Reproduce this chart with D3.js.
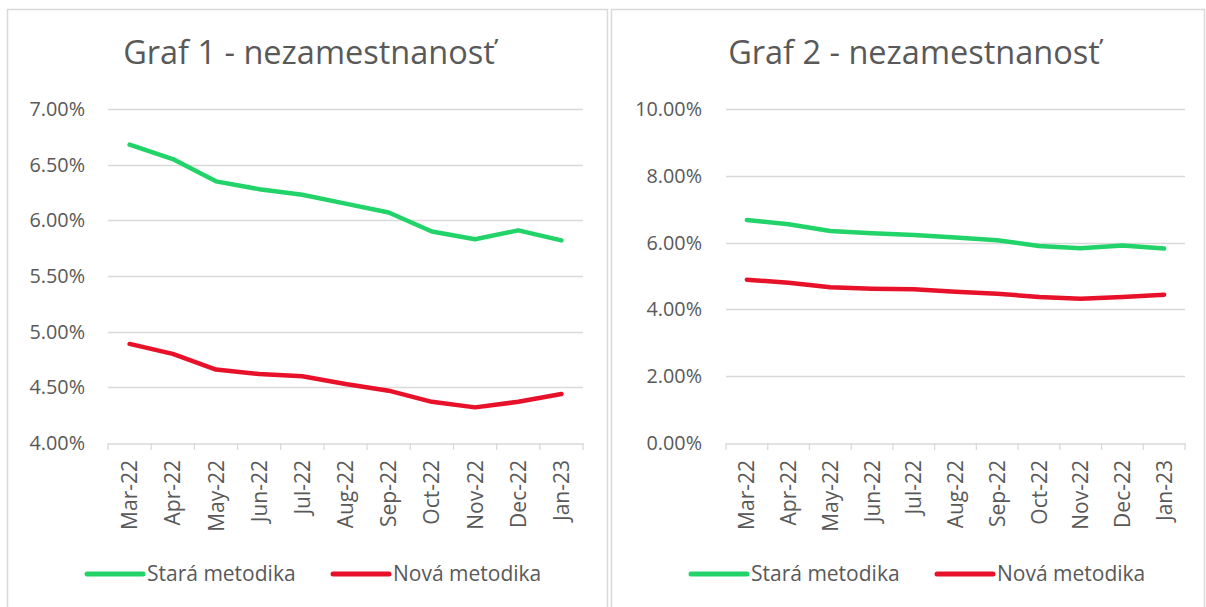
<!DOCTYPE html>
<html>
<head>
<meta charset="utf-8">
<script src="https://cdn.jsdelivr.net/npm/d3@7"></script>
<style>
  body { margin: 0; background: #fff; }
  svg text { font-family: "Open Sans", sans-serif; fill: #595959; }
</style>
</head>
<body>
<div id="chart"></div>
<script>
// Two line charts: unemployment, old vs new methodology

const months = ["Mar-22", "Apr-22", "May-22", "Jun-22", "Jul-22", "Aug-22",
  "Sep-22", "Oct-22", "Nov-22", "Dec-22", "Jan-23"];
const stara = [6.68, 6.55, 6.35, 6.28, 6.23, 6.15, 6.07, 5.90, 5.83, 5.91, 5.82];
const nova = [4.89, 4.80, 4.66, 4.62, 4.60, 4.53, 4.47, 4.37, 4.32, 4.37, 4.44];
const ticks1 = [4.0, 4.5, 5.0, 5.5, 6.0, 6.5, 7.0];
const ticks2 = [0, 2, 4, 6, 8, 10];
const seriesNames = ["Stará metodika", "Nová metodika"];
const seriesColors = ["#22d36a", "#e8112a"];

const W = 1206, H = 607;
const svg = d3.select("#chart").append("svg")
  .attr("width", W)
  .attr("height", H);

const fmt = d => d3.format(".2f")(d) + "%";

function renderPanel(p) {
  const g = svg.append("g");

  // panel border
  g.append("rect")
    .attr("x", p.left).attr("y", 9.5)
    .attr("width", p.right - p.left).attr("height", H + 20)
    .attr("fill", "none").attr("stroke", "#d9d9d9").attr("stroke-width", 1.5);

  g.append("text")
    .attr("x", p.titleX).attr("y", 64)
    .attr("text-anchor", "middle")
    .style("font-size", "32.5px")
    .text(p.title);

  const x = d3.scaleBand().domain(months).range([p.x0, p.x1]);
  const y = d3.scaleLinear().domain(d3.extent(p.ticks)).range([443, 109]);

  // gridlines
  g.selectAll(".grid").data(p.ticks.slice(1)).enter().append("line")
    .attr("x1", p.x0).attr("x2", p.x1)
    .attr("y1", d => Math.round(y(d)) + 0.5).attr("y2", d => Math.round(y(d)) + 0.5)
    .attr("stroke", "#d9d9d9").attr("stroke-width", 1.3);

  // y labels
  g.selectAll(".ylab").data(p.ticks).enter().append("text")
    .attr("x", p.labelX).attr("y", d => y(d))
    .attr("dy", "0.35em")
    .attr("text-anchor", "end")
    .style("font-size", "19.8px")
    .text(fmt);

  // x axis
  const xAxis = d3.axisBottom(x).tickSize(0).tickFormat("");
  const ax = g.append("g").attr("transform", `translate(0 ${443.5})`).call(xAxis);
  ax.select(".domain").attr("stroke", "#d9d9d9").attr("stroke-width", 1.3);
  const edges = months.map(m => x(m)).concat([p.x1]);
  g.selectAll(".xtick").data(edges).enter().append("line")
    .attr("x1", d => d).attr("x2", d => d)
    .attr("y1", 443).attr("y2", 450)
    .attr("stroke", "#d9d9d9").attr("stroke-width", 1.3);

  g.selectAll(".xlab").data(months).enter().append("text")
    .attr("transform", d => `translate(${x(d) + x.bandwidth() / 2} 460) rotate(-90)`)
    .attr("dy", "0.36em")
    .attr("text-anchor", "end")
    .style("font-size", "21px")
    .text(d => d);

  // series lines
  const line = d3.line()
    .x((d, i) => x(months[i]) + x.bandwidth() / 2)
    .y(d => y(d));
  [stara, nova].forEach((s, i) => {
    g.append("path")
      .datum(s)
      .attr("d", line)
      .attr("fill", "none")
      .attr("stroke", seriesColors[i])
      .attr("stroke-width", 4.5)
      .attr("stroke-linejoin", "round")
      .attr("stroke-linecap", "round");
  });

  // legend
  p.legend.forEach((lx, i) => {
    g.append("line")
      .attr("x1", lx).attr("x2", lx + 56)
      .attr("y1", 574).attr("y2", 574)
      .attr("stroke", seriesColors[i])
      .attr("stroke-width", 5)
      .attr("stroke-linecap", "round");
    g.append("text")
      .attr("x", lx + 60).attr("y", 574)
      .attr("dy", "0.35em")
      .style("font-size", "21px")
      .text(seriesNames[i]);
  });
}

renderPanel({
  left: 7.5, right: 607.5, title: "Graf 1 - nezamestnanosť", titleX: 309,
  x0: 108, x1: 583, ticks: ticks1, labelX: 85, legend: [87, 333]
});
renderPanel({
  left: 611.5, right: 1204.5, title: "Graf 2 - nezamestnanosť", titleX: 914,
  x0: 726, x1: 1185, ticks: ticks2, labelX: 702, legend: [691, 937]
});
</script>
</body>
</html>
